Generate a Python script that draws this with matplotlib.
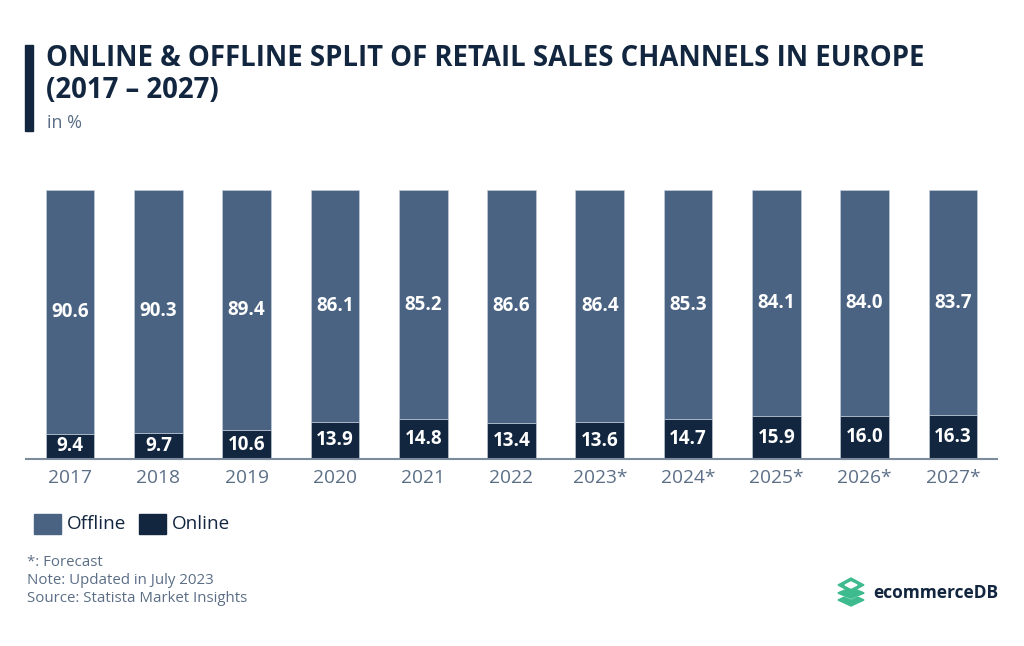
import matplotlib
matplotlib.use("Agg")
import matplotlib.pyplot as plt
from matplotlib.patches import Rectangle, Polygon

years = ["2017", "2018", "2019", "2020", "2021", "2022", "2023*", "2024*", "2025*", "2026*", "2027*"]
online = [9.4, 9.7, 10.6, 13.9, 14.8, 13.4, 13.6, 14.7, 15.9, 16.0, 16.3]
offline = [90.6, 90.3, 89.4, 86.1, 85.2, 86.6, 86.4, 85.3, 84.1, 84.0, 83.7]

C_OFF = "#4a6382"
C_ON = "#12263f"
C_TXT = "#5b6e86"
FONT = "Open Sans"

plt.rcParams["font.family"] = [FONT, "DejaVu Sans"]

fig = plt.figure(figsize=(10.24, 6.46), dpi=100)
W, H = 1024, 646

def fx(px):
    return px / W

def fy(py):
    return 1 - py / H

ax = fig.add_axes([fx(26), fy(459), fx(997) - fx(26), 269 / H])
x = list(range(len(years)))
bw = 0.55
ax.bar(x, online, width=bw, color=C_ON, edgecolor="#c9d3df", linewidth=0.4, zorder=2)
ax.bar(x, offline, width=bw, bottom=online, color=C_OFF, edgecolor="#c9d3df", linewidth=0.4, zorder=2)

for i in x:
    ax.text(i, online[i] / 2, f"{online[i]:.1f}", ha="center", va="center",
            color="white", fontsize=13.5, fontweight="bold", zorder=3)
    ax.text(i, online[i] + offline[i] / 2, f"{offline[i]:.1f}", ha="center", va="center",
            color="white", fontsize=13.5, fontweight="bold", zorder=3)

ax.set_xlim(-0.5, len(years) - 0.5)
ax.set_ylim(0, 100)
ax.set_xticks(x)
ax.set_xticklabels(years, fontsize=13.8, color=C_TXT)
ax.tick_params(axis="x", length=0, pad=7)
ax.set_yticks([])
for s in ["top", "right", "left"]:
    ax.spines[s].set_visible(False)
ax.spines["bottom"].set_color("#7d8c9c")
ax.spines["bottom"].set_linewidth(1.5)
ax.spines["bottom"].set_zorder(4)

# title block
fig.patches.append(Rectangle((fx(25), fy(131)), fx(8), (131 - 45) / H,
                             transform=fig.transFigure, color=C_ON))
fig.text(fx(46), fy(59), "ONLINE & OFFLINE SPLIT OF RETAIL SALES CHANNELS IN EUROPE",
         fontsize=19.8, fontweight="bold", color=C_ON, va="center", ha="left")
fig.text(fx(46), fy(90), "(2017 \u2013 2027)",
         fontsize=19.8, fontweight="bold", color=C_ON, va="center", ha="left")
fig.text(fx(47), fy(123), "in %", fontsize=13, color=C_TXT, va="center", ha="left")

# legend
fig.patches.append(Rectangle((fx(34), fy(534)), fx(27), 20 / H,
                             transform=fig.transFigure, color=C_OFF))
fig.text(fx(67), fy(524), "Offline", fontsize=13.6, color=C_ON, va="center", ha="left")
fig.patches.append(Rectangle((fx(139), fy(534)), fx(27), 20 / H,
                             transform=fig.transFigure, color=C_ON))
fig.text(fx(172), fy(524), "Online", fontsize=13.6, color=C_ON, va="center", ha="left")

# footer
fig.text(fx(27), fy(563), "*: Forecast", fontsize=10.8, color=C_TXT, va="center", ha="left")
fig.text(fx(27), fy(581), "Note: Updated in July 2023", fontsize=10.8, color=C_TXT, va="center", ha="left")
fig.text(fx(27), fy(599), "Source: Statista Market Insights", fontsize=10.8, color=C_TXT, va="center", ha="left")

# logo
G1, G2 = "#3dbb8f", "#7fd3b2"
def rh(cx, cy, w, h, col):
    pts = [(fx(cx - w), fy(cy)), (fx(cx), fy(cy - h)), (fx(cx + w), fy(cy)), (fx(cx), fy(cy + h))]
    fig.patches.append(Polygon(pts, closed=True, transform=fig.transFigure, color=col))
rh(851, 600, 13, 6, G1)
rh(851, 593, 13, 6, G2)
rh(851, 593, 13, 5, G1)
rh(851, 585, 13, 7, G1)
rh(851, 585, 6, 3, "white")
fig.text(fx(873), fy(593), "ecommerceDB", fontsize=12.5, fontweight="bold", color=C_ON,
         va="center", ha="left")

fig.savefig("out.png", dpi=100)
